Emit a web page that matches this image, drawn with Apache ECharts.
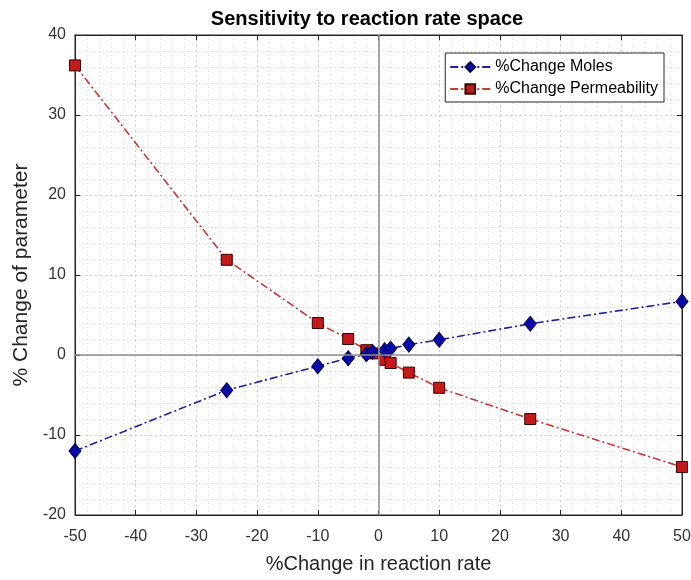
<!DOCTYPE html>
<html><head><meta charset="utf-8">
<script src="https://cdn.jsdelivr.net/npm/echarts@6/dist/echarts.min.js"></script>
<style>html,body{margin:0;padding:0;background:#fff}#c{width:691px;height:580px}</style>
</head><body><div id="c"></div>
<script>
var xValues = [-50, -25, -10, -5, -2, -1, 1, 2, 5, 10, 25, 50];
var moles = [-12.0, -4.4, -1.4, -0.4, 0.1, 0.4, 0.6, 0.8, 1.3, 1.9, 3.9, 6.7];
var permeability = [36.2, 11.9, 4.0, 2.0, 0.6, 0.2, -0.6, -1.0, -2.2, -4.1, -8.0, -14.0];
var xTicks = [-50, -40, -30, -20, -10, 0, 10, 20, 30, 40, 50];
var yTicks = [-20, -10, 0, 10, 20, 30, 40];

var font = 'Liberation Sans, Arial, sans-serif';
function pairs(xs, ys){ return xs.map(function(x,i){return [x, ys[i]];}); }
var chart = echarts.init(document.getElementById('c'), null, {renderer:'canvas'});
var tickCommon = {
  axisLine:{show:true, onZero:false, lineStyle:{color:'#262626', width:1}},
  axisTick:{show:true, inside:true, length:5, lineStyle:{color:'#262626'}},
  minorTick:{show:false}
};
chart.setOption({
  animation:false,
  backgroundColor:'#fff',
  title:{text:'Sensitivity to reaction rate space', left:362, top:4, textAlign:'center',
    textStyle:{fontFamily:font, fontSize:20, fontWeight:'bold', color:'#000'}},
  grid:{left:75, right:9, top:35, bottom:65, show:true, borderColor:'#262626', borderWidth:1,
    containLabel:false, outerBoundsMode:'none'},
  legend:{
    right:27, top:53, orient:'vertical', itemGap:6, itemWidth:40, itemHeight:12,
    padding:[6,6,5,4],
    backgroundColor:'#fff', borderColor:'#262626', borderWidth:1, borderRadius:0,
    textStyle:{fontFamily:font, fontSize:16, color:'#000'},
    data:['%Change Moles','%Change Permeability']
  },
  xAxis:[Object.assign({
    type:'value', min:-50, max:50, interval:10, position:'bottom',
    name:'%Change in reaction rate', nameLocation:'middle', nameGap:39,
    nameTextStyle:{fontFamily:font, fontSize:20, color:'#262626'},
    axisLabel:{fontFamily:font, fontSize:16, color:'#333', margin:14,
      formatter:function(v){return xTicks.indexOf(v)>=0? String(v):'';}},
    splitLine:{show:true, lineStyle:{color:'#cfcfcf', type:[2,3], width:1}},
    minorSplitLine:{show:true, lineStyle:{color:'#d8d8d8', type:[1,3], width:1}}
  }, tickCommon), Object.assign({
    type:'value', min:-50, max:50, interval:10, position:'top',
    axisLabel:{show:false}, splitLine:{show:false}
  }, tickCommon)],
  yAxis:[Object.assign({
    type:'value', min:-20, max:40, interval:10, position:'left',
    name:'% Change of parameter', nameLocation:'middle', nameGap:43, nameRotate:90,
    nameTextStyle:{fontFamily:font, fontSize:21, color:'#262626'},
    axisLabel:{fontFamily:font, fontSize:16, color:'#333', margin:9,
      formatter:function(v){return yTicks.indexOf(v)>=0? String(v):'';}},
    splitLine:{show:true, lineStyle:{color:'#cfcfcf', type:[2,3], width:1}},
    minorSplitLine:{show:true, lineStyle:{color:'#d8d8d8', type:[1,3], width:1}}
  }, tickCommon), Object.assign({
    type:'value', min:-20, max:40, interval:10, position:'right',
    axisLabel:{show:false}, splitLine:{show:false}
  }, tickCommon)],
  series:[
    {name:'%Change Moles', type:'line', data:pairs(xValues, moles),
     symbol:'diamond', symbolSize:[12,15], z:4,
     itemStyle:{color:'#0a0aa8', borderColor:'#00004a', borderWidth:1},
     lineStyle:{color:'#2020a0', width:1.6, type:[8,3,2,3]},
     markLine:{silent:true, symbol:'none', label:{show:false},
       lineStyle:{color:'#8c8c8c', type:'solid', width:1.5},
       data:[{xAxis:0},{yAxis:0}]}
    },
    {name:'%Change Permeability', type:'line', data:pairs(xValues, permeability),
     symbol:'rect', symbolSize:11, z:3,
     itemStyle:{color:'#c41a1a', borderColor:'#3a0000', borderWidth:1},
     lineStyle:{color:'#c83838', width:1.6, type:[8,3,2,3]}
    }
  ]
});
</script></body></html>
